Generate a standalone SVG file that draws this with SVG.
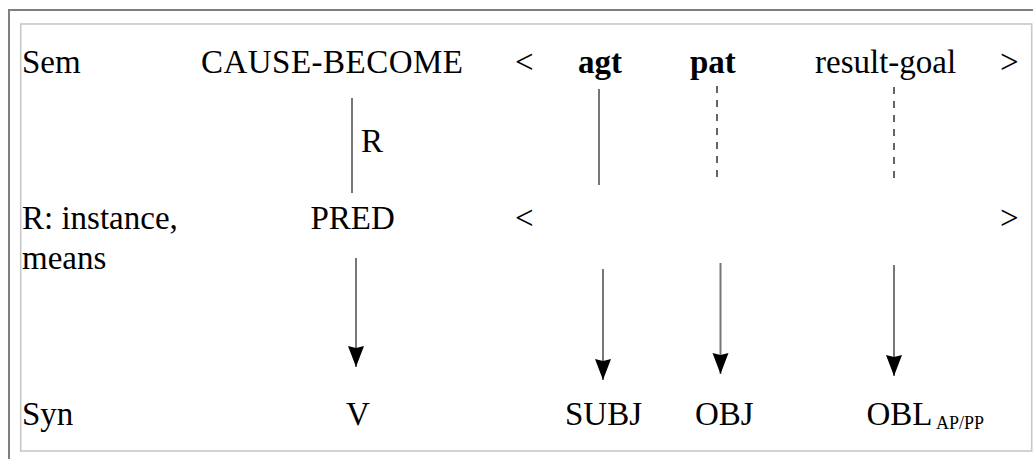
<svg xmlns="http://www.w3.org/2000/svg" width="1033" height="459" viewBox="0 0 1033 459">
<style>
text{font-family:"Liberation Serif","Times New Roman",serif;font-size:33px;fill:#000}
.b{font-weight:bold}
.sub{font-size:18px}
.ln{stroke:#777;stroke-width:2;fill:none}
.ds{stroke:#555;stroke-width:1.8;stroke-dasharray:7 7;fill:none}
</style>
<defs>
<marker id="ah" markerUnits="userSpaceOnUse" markerWidth="24" markerHeight="18" refX="21" refY="0" viewBox="0 -9 24 18" orient="auto">
<path d="M0,-8 L21,0 L0,8 L2,0 z" fill="#000"/>
</marker>
</defs>
<rect x="9" y="10" width="1100" height="500" fill="#fff" stroke="#7f7f7f" stroke-width="2"/>
<rect x="20.7" y="24" width="1011" height="427" fill="none" stroke="#c8c8c8" stroke-width="1.6"/>
<g id="labels">
<g id="sem"><text x="22" y="73">Sem</text></g>
<g id="rinst"><text x="22" y="228.5">R: instance,</text><text x="22" y="269">means</text></g>
<g id="syn"><text x="22" y="424.5">Syn</text></g>
</g>
<g id="cause"><text x="201" y="73" textLength="262" lengthAdjust="spacing">CAUSE-BECOME</text></g>
<g id="lt1"><text x="515" y="73">&lt;</text></g>
<g id="agt"><text class="b" x="578" y="73">agt</text></g>
<g id="pat"><text class="b" x="690" y="73">pat</text></g>
<g id="rg"><text x="815" y="73">result-goal</text></g>
<g id="gt1"><text x="1000" y="73">&gt;</text></g>
<g id="pred"><text x="310.5" y="228.5">PRED</text></g>
<g id="lt2"><text x="515" y="228.5">&lt;</text></g>
<g id="gt2"><text x="1000" y="228.5">&gt;</text></g>
<g id="rlabel"><text x="361" y="152">R</text></g>
<g id="v"><text x="346" y="424.5">V</text></g>
<g id="subj"><text x="565" y="424.5">SUBJ</text></g>
<g id="obj"><text x="695" y="424.5">OBJ</text></g>
<g id="obl"><text x="866.5" y="424.5">OBL</text><text class="sub" x="936" y="428.5">AP/PP</text></g>
<g id="connectors">
<line class="ln" x1="352" y1="98" x2="352" y2="193"/>
<line class="ln" x1="599" y1="89" x2="599" y2="185"/>
<line class="ds" x1="717" y1="86" x2="717" y2="183"/>
<line class="ds" x1="894" y1="87" x2="894" y2="184"/>
<line class="ln" x1="356" y1="258" x2="356" y2="367" marker-end="url(#ah)"/>
<line class="ln" x1="603" y1="269" x2="603" y2="380" marker-end="url(#ah)"/>
<line class="ln" x1="720.5" y1="263" x2="720.5" y2="374" marker-end="url(#ah)"/>
<line class="ln" x1="894" y1="265" x2="894" y2="376" marker-end="url(#ah)"/>
</g>
</svg>
